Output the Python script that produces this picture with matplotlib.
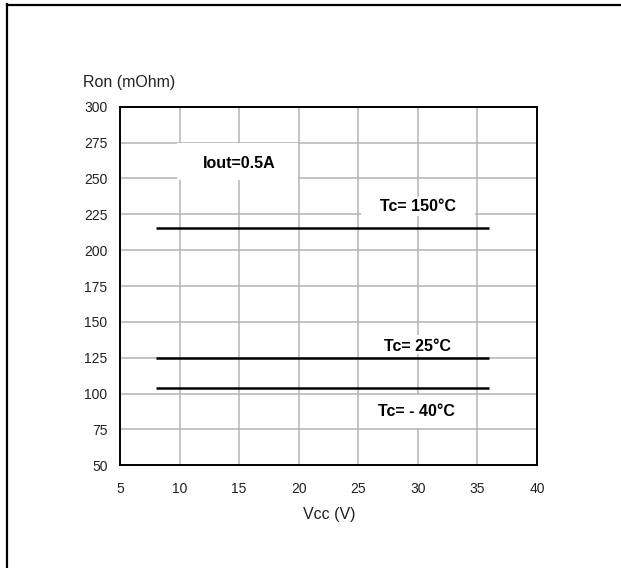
import matplotlib
matplotlib.use("Agg")
import matplotlib.pyplot as plt
from matplotlib.patches import Rectangle
from matplotlib.lines import Line2D

plt.rcParams['font.family'] = ['Liberation Sans', 'DejaVu Sans']

# data
vcc = [8, 36]
ron_150 = [215.5, 215.5]
ron_25 = [125, 125]
ron_m40 = [104, 104]

curve_labels = ["Tc= 150°C", "Tc= 25°C", "Tc= - 40°C"]
label_pos = [(30.0, 230.5), (30.0, 132.5), (29.9, 87.5)]
label_boxes = [(25.2, 224.0, 9.6, 13.0), (25.2, 127.5, 9.6, 13.5), (25.2, 76.0, 9.6, 23.0)]

xticks = [5, 10, 15, 20, 25, 30, 35, 40]
yticks = [50, 75, 100, 125, 150, 175, 200, 225, 250, 275, 300]

W, H = 621, 568
fig = plt.figure(figsize=(W / 100, H / 100), dpi=100)
ax = fig.add_axes([120 / W, 1 - 465.3 / H, 417 / W, 358.6 / H])

ax.set_xlim(5, 40)
ax.set_ylim(50, 300)
ax.set_xticks(xticks)
ax.set_yticks(yticks)
ax.tick_params(length=0, labelsize=10, colors='#222222')
ax.tick_params(axis='y', pad=9)
ax.tick_params(axis='x', pad=12)
ax.grid(True, color='#b4b4b4', linewidth=1.1, zorder=0)
ax.set_axisbelow(True)
for s in ax.spines.values():
    s.set_linewidth(1.4)
    s.set_color('black')

for ys in (ron_150, ron_25, ron_m40):
    ax.plot(vcc, ys, color='black', linewidth=1.8, solid_capstyle='butt', zorder=3)

# white patches behind the labels (they hide the grid)
ax.add_patch(Rectangle((9.8, 249.2), 10.1, 25.3, facecolor='white', edgecolor='none', zorder=1))
for (bx, by, bw, bh) in label_boxes:
    ax.add_patch(Rectangle((bx, by), bw, bh, facecolor='white', edgecolor='none', zorder=1))

ax.text(15.0, 260.7, "Iout=0.5A", fontsize=11.5, fontweight='bold', ha='center', va='center', zorder=4)
for txt, (tx, ty) in zip(curve_labels, label_pos):
    ax.text(tx, ty, txt, fontsize=11.5, fontweight='bold', ha='center', va='center', zorder=4)

fig.text(83 / W, 1 - 83 / H, "Ron (mOhm)", fontsize=11.5, ha='left', va='center', color='#222222')
fig.text(329 / W, 1 - 515 / H, "Vcc (V)", fontsize=11.5, ha='center', va='center', color='#222222')

# page frame
fig.add_artist(Line2D([7 / W, 7 / W], [0, 1 - 4 / H], transform=fig.transFigure, color='black', linewidth=1.6))
fig.add_artist(Line2D([7 / W, 1], [1 - 4.5 / H, 1 - 4.5 / H], transform=fig.transFigure, color='black', linewidth=1.6))

fig.savefig("out.png", dpi=100)
